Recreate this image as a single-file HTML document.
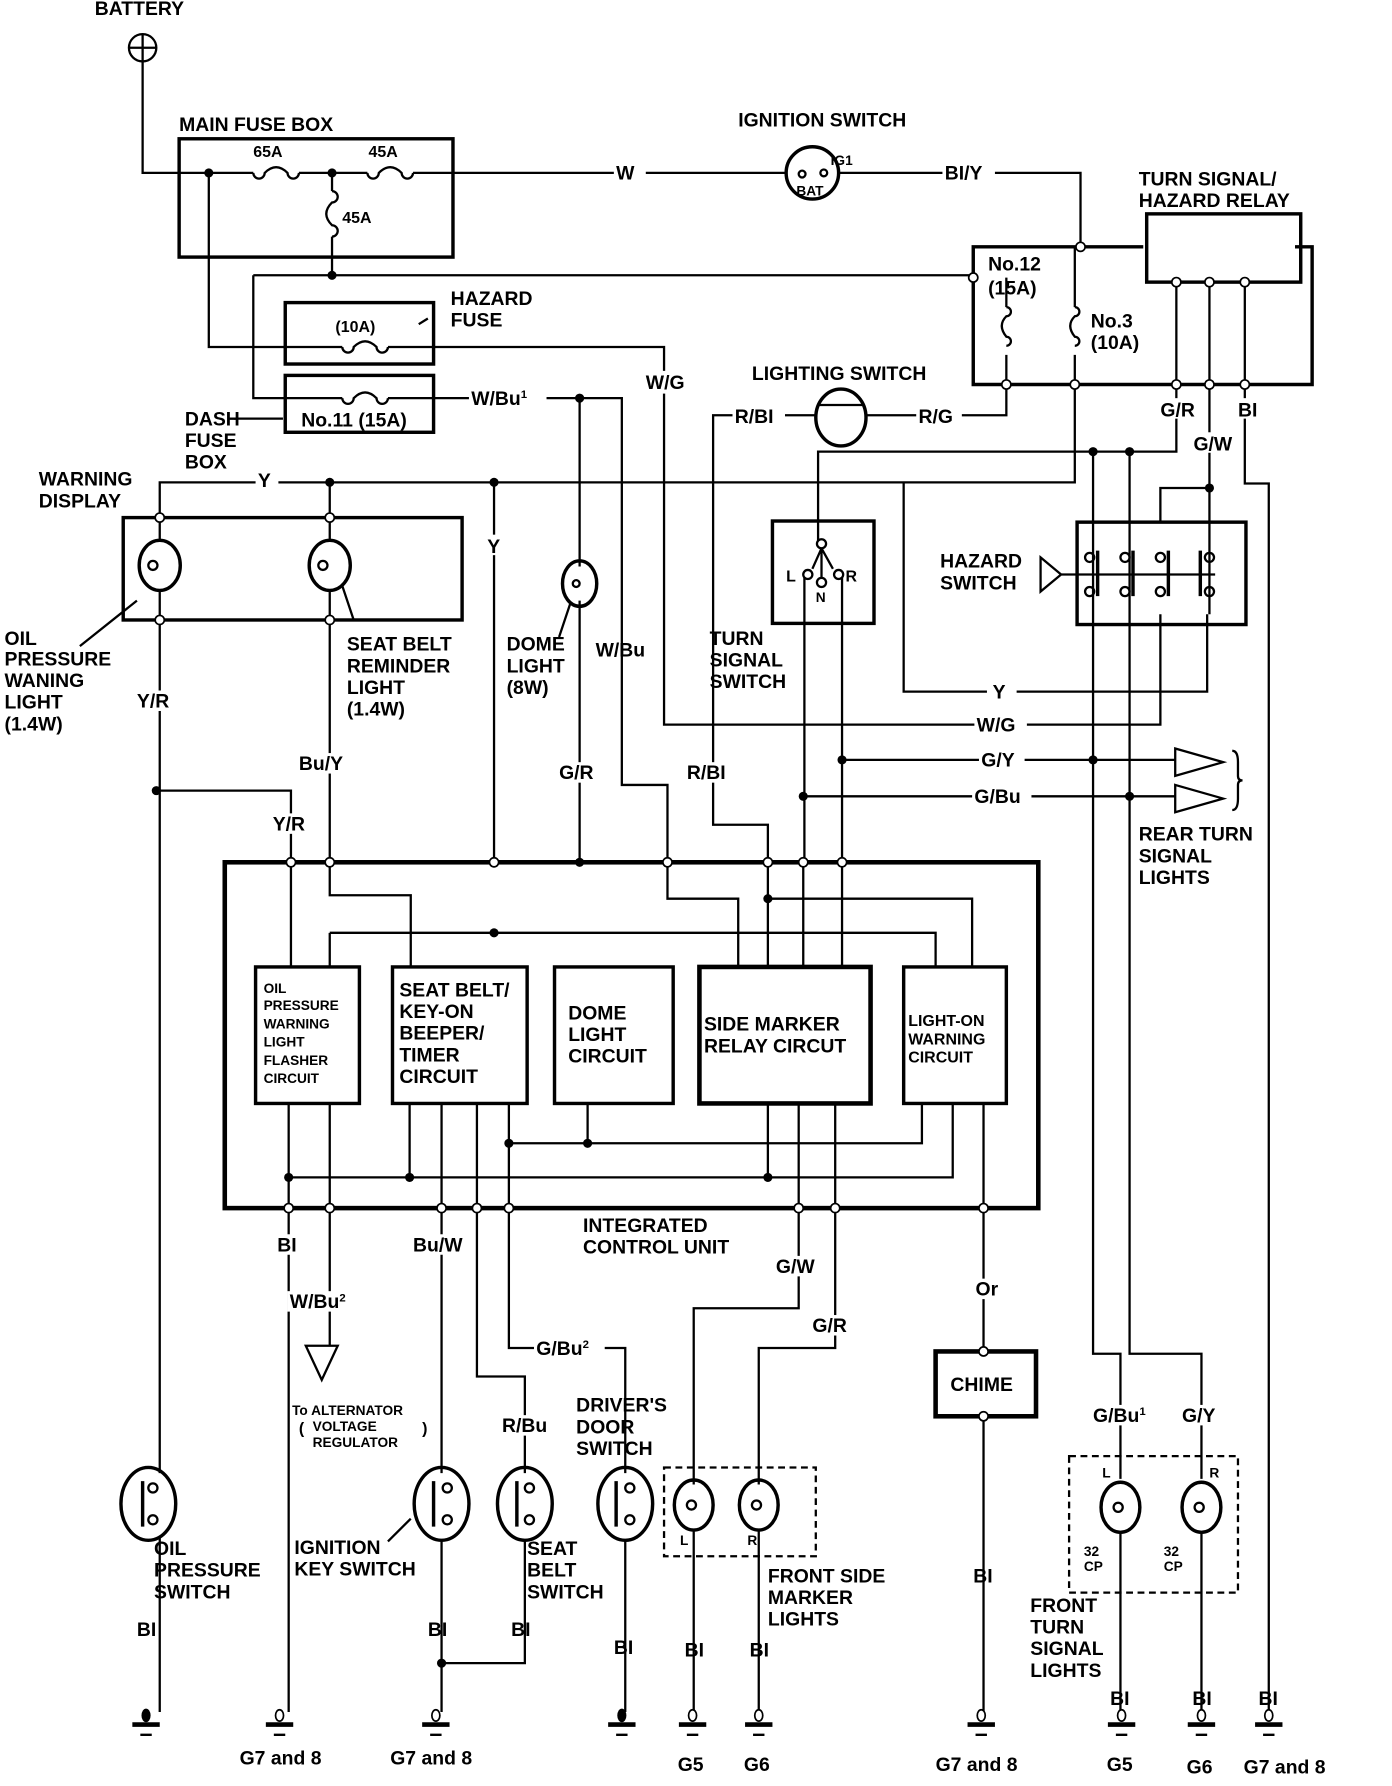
<!DOCTYPE html>
<html><head><meta charset="utf-8"><style>
html,body{margin:0;padding:0;background:#fff;}
svg{display:block}
text{font-family:"Liberation Sans",sans-serif;font-weight:bold;font-size:17px;fill:#000}
.s{font-size:14px}
.xs{font-size:12px}
</style></head><body>
<svg width="1392" height="1786" viewBox="0 0 1220 1570" preserveAspectRatio="none" xmlns="http://www.w3.org/2000/svg">
<g fill="none" stroke="#000" stroke-width="2">
<!-- battery -->
<circle cx="125" cy="42" r="12"/><path d="M113 42h24M125 30v24"/>
<path d="M125 54V152H222M262 152H322M362 152H690"/>
<!-- main fuse box -->
<rect x="157" y="122" width="240" height="104" stroke-width="3"/>
<path d="M222 152a5 5 0 1 0 10 0q10 -10 20 0a5 5 0 1 0 10 0"/>
<path d="M322 152a5 5 0 1 0 10 0q10 -10 20 0a5 5 0 1 0 10 0"/>
<path d="M291 152V168M291 208V242"/>
<path d="M291 168a5 5 0 1 1 0 10q-10 10 0 20a5 5 0 1 1 0 10"/>
<path d="M183 152V305H300M340 305H380H582V637H1017V540"/>
<path d="M222 242H853M222 242V350H300M340 350H508H545V690H585V758"/>
<path d="M300 305a5 5 0 1 0 10 0q10 -10 20 0a5 5 0 1 0 10 0"/>
<path d="M300 350a5 5 0 1 0 10 0q10 -10 20 0a5 5 0 1 0 10 0"/>
<rect x="250" y="266" width="130" height="54" stroke-width="3"/>
<rect x="250" y="330" width="130" height="50" stroke-width="3"/>
<path d="M205 368H248M375 280l-8 5"/>
<!-- ignition switch -->
<circle cx="712" cy="152" r="23" stroke-width="3"/>
<circle cx="703" cy="153" r="3"/><circle cx="722" cy="152" r="3"/>
<path d="M735 152H947V217"/>
<!-- fuse block 12 / 3 and relay -->
<path d="M1002 217H853V338H1150V217H1135" stroke-width="3"/>
<rect x="1005" y="188" width="135" height="60" stroke-width="3"/>
<path d="M882 244V270M882 312V338M942 217V270M942 312V338"/>
<path d="M882 270a4 4 0 1 1 0 8q-8 8 0 18a4 4 0 1 1 0 8"/>
<path d="M942 270a4 4 0 1 1 0 8q-8 8 0 18a4 4 0 1 1 0 8"/>
<path d="M1031 248V338M1060 248V338M1091 248V338"/>
<!-- lighting switch -->
<ellipse cx="737" cy="367" rx="22" ry="25" stroke-width="3"/>
<path d="M718 356H756"/>
<path d="M882 338V365H759M715 365H625V725H673V758"/>
<!-- No3 output -->
<path d="M942 338V424H140V455"/>
<path d="M1031 338V397H717V475"/>
<path d="M958 397V1190H982V1300M990 397V1190H1053V1300"/>
<path d="M1060 338V540M1060 429H1017V459"/>
<path d="M1091 338V425H1112V1505"/>
<path d="M792 424V608H1058V540"/>
<!-- hazard switch -->
<rect x="944" y="459" width="148" height="90" stroke-width="3"/>
<path d="M912 490L930 505L912 520ZM930 505H1065"/>
<path d="M962 484v40M993 484v40M1024 484v40M1052 484v40" stroke-width="3"/>
<circle cx="955" cy="490" r="4"/><circle cx="955" cy="520" r="4"/>
<circle cx="986" cy="490" r="4"/><circle cx="986" cy="520" r="4"/>
<circle cx="1017" cy="490" r="4"/><circle cx="1017" cy="520" r="4"/>
<circle cx="1060" cy="490" r="4"/><circle cx="1060" cy="520" r="4"/>
<!-- turn signal switch -->
<rect x="677" y="458" width="89" height="90" stroke-width="3"/>
<circle cx="720" cy="478" r="4"/><circle cx="708" cy="505" r="4"/><circle cx="735" cy="505" r="4"/><circle cx="720" cy="512" r="4"/>
<path d="M720 482V508M720 482L712 500M720 482L730 500"/>
<path d="M705 508V758M738 508V758"/>
<path d="M738 668H1030M704 700H1030"/>
<path d="M1030 658L1072 670L1030 682ZM1030 690L1072 702L1030 714Z"/>
<path d="M1080 660q5 0 5 10v12q0 4 4 4q-4 0 -4 4v12q0 10 -5 10"/>
<!-- warning display -->
<rect x="108" y="455" width="297" height="90" stroke-width="3"/>
<ellipse cx="140" cy="497" rx="18" ry="22" stroke-width="3"/><circle cx="134" cy="497" r="4"/>
<ellipse cx="289" cy="497" rx="18" ry="22" stroke-width="3"/><circle cx="283" cy="497" r="4"/>
<path d="M140 455V475M140 519V545M289 424V475M289 519V545"/>
<path d="M140 545V1295M140 1352V1505M137 695H255V758M289 545V758"/>
<path d="M433 424V758M508 350V498M508 528V758"/>
<ellipse cx="508" cy="513" rx="15" ry="20" stroke-width="3"/><circle cx="505" cy="513" r="3"/>
<path d="M70 568L120 528M310 545L300 515M490 560L500 530"/>
<!-- ICU -->
<rect x="197" y="758" width="713" height="304" stroke-width="4"/>
<rect x="224" y="850" width="91" height="120" stroke-width="3"/>
<rect x="344" y="850" width="118" height="120" stroke-width="3"/>
<rect x="486" y="850" width="104" height="120" stroke-width="3"/>
<rect x="613" y="850" width="150" height="120" stroke-width="4"/>
<rect x="792" y="850" width="90" height="120" stroke-width="3"/>
<path d="M255 758V850M289 758V787H360V850M289 820V850M289 820H820V850M585 758V790H647V850M673 790H852V850M673 758V850M704 758V850M738 758V850"/>
<path d="M253 970V1505M289 970V1183M359 970V1035M387 970V1295M418 970V1210H460V1295M446 970V1185H548V1295"/>
<path d="M253 1035H835V970M446 1005H808V970M515 970V1005"/>
<path d="M673 970V1035M700 970V1150H608V1305M732 970V1185H665V1305M862 970V1188"/>
<path d="M268 1183H296L282 1213Z"/>
<!-- chime -->
<rect x="820" y="1188" width="88" height="57" stroke-width="4"/>
<path d="M862 1245V1505"/>
<!-- switches -->
<ellipse cx="130" cy="1322" rx="24" ry="32" stroke-width="3"/>
<ellipse cx="387" cy="1322" rx="24" ry="32" stroke-width="3"/>
<ellipse cx="460" cy="1322" rx="24" ry="32" stroke-width="3"/>
<ellipse cx="548" cy="1322" rx="24" ry="32" stroke-width="3"/>
<path d="M125 1302v40M380 1302v40M453 1302v40M540 1302v40" stroke-width="3"/>
<circle cx="134" cy="1308" r="4"/><circle cx="134" cy="1336" r="4"/>
<circle cx="392" cy="1308" r="4"/><circle cx="392" cy="1336" r="4"/>
<circle cx="464" cy="1308" r="4"/><circle cx="464" cy="1336" r="4"/>
<circle cx="552" cy="1308" r="4"/><circle cx="552" cy="1336" r="4"/>
<path d="M387 1354V1505M387 1462H460V1354M548 1354V1505M340 1355L360 1335"/>
<!-- front side markers -->
<rect x="582" y="1290" width="133" height="78" stroke-dasharray="6 4"/>
<ellipse cx="608" cy="1323" rx="17" ry="22" stroke-width="3"/><circle cx="606" cy="1323" r="4"/>
<ellipse cx="665" cy="1323" rx="17" ry="22" stroke-width="3"/><circle cx="663" cy="1323" r="4"/>
<path d="M608 1345V1505M665 1345V1505"/>
<!-- front turn -->
<rect x="937" y="1280" width="148" height="120" stroke-dasharray="6 4"/>
<ellipse cx="982" cy="1325" rx="17" ry="22" stroke-width="3"/><circle cx="980" cy="1325" r="4"/>
<ellipse cx="1053" cy="1325" rx="17" ry="22" stroke-width="3"/><circle cx="1051" cy="1325" r="4"/>
<path d="M982 1347V1505M1053 1347V1505"/>
</g>
<!-- dots -->
<g fill="#000">
<circle cx="183" cy="152" r="4"/><circle cx="291" cy="152" r="4"/><circle cx="291" cy="242" r="4"/>
<circle cx="508" cy="350" r="4"/><circle cx="289" cy="424" r="4"/><circle cx="433" cy="424" r="4"/>
<circle cx="958" cy="397" r="4"/><circle cx="990" cy="397" r="4"/><circle cx="1060" cy="429" r="4"/>
<circle cx="137" cy="695" r="4"/><circle cx="738" cy="668" r="4"/><circle cx="704" cy="700" r="4"/>
<circle cx="958" cy="668" r="4"/><circle cx="990" cy="700" r="4"/>
<circle cx="433" cy="820" r="4"/><circle cx="673" cy="790" r="4"/><circle cx="508" cy="758" r="4"/>
<circle cx="253" cy="1035" r="4"/><circle cx="359" cy="1035" r="4"/><circle cx="673" cy="1035" r="4"/>
<circle cx="446" cy="1005" r="4"/><circle cx="515" cy="1005" r="4"/><circle cx="387" cy="1462" r="4"/>
</g>
<g fill="#fff" stroke="#000" stroke-width="1.5">
<circle cx="853" cy="244" r="4"/><circle cx="947" cy="217" r="4"/><circle cx="882" cy="338" r="4"/><circle cx="942" cy="338" r="4"/>
<circle cx="1031" cy="248" r="4"/><circle cx="1060" cy="248" r="4"/><circle cx="1091" cy="248" r="4"/>
<circle cx="1031" cy="338" r="4"/><circle cx="1060" cy="338" r="4"/><circle cx="1091" cy="338" r="4"/>
<circle cx="140" cy="455" r="4"/><circle cx="289" cy="455" r="4"/><circle cx="140" cy="545" r="4"/><circle cx="289" cy="545" r="4"/>
<circle cx="255" cy="758" r="4"/><circle cx="289" cy="758" r="4"/><circle cx="433" cy="758" r="4"/><circle cx="585" cy="758" r="4"/>
<circle cx="673" cy="758" r="4"/><circle cx="704" cy="758" r="4"/><circle cx="738" cy="758" r="4"/>
<circle cx="253" cy="1062" r="4"/><circle cx="289" cy="1062" r="4"/><circle cx="387" cy="1062" r="4"/><circle cx="418" cy="1062" r="4"/><circle cx="446" cy="1062" r="4"/>
<circle cx="700" cy="1062" r="4"/><circle cx="732" cy="1062" r="4"/><circle cx="862" cy="1062" r="4"/>
<circle cx="862" cy="1188" r="4"/><circle cx="862" cy="1245" r="4"/>
</g>
<!-- grounds -->
<g stroke="#000" fill="none">
<path d="M116 1516h24M233 1516h24M370 1516h24M533 1516h24M595 1516h24M653 1516h24M848 1516h24M971 1516h24M1041 1516h24M1100 1516h24" stroke-width="4"/>
<path d="M123 1525h10M240 1525h10M377 1525h10M540 1525h10M602 1525h10M660 1525h10M855 1525h10M978 1525h10M1048 1525h10M1107 1525h10" stroke-width="2"/>
</g>
<g fill="#000"><ellipse cx="128" cy="1508" rx="4" ry="6"/><ellipse cx="545" cy="1508" rx="4" ry="6"/></g>
<g fill="#fff" stroke="#000" stroke-width="1.5">
<ellipse cx="245" cy="1508" rx="3.5" ry="5"/><ellipse cx="382" cy="1508" rx="3.5" ry="5"/><ellipse cx="607" cy="1508" rx="3.5" ry="5"/><ellipse cx="665" cy="1508" rx="3.5" ry="5"/><ellipse cx="860" cy="1508" rx="3.5" ry="5"/><ellipse cx="983" cy="1508" rx="3.5" ry="5"/><ellipse cx="1053" cy="1508" rx="3.5" ry="5"/><ellipse cx="1112" cy="1508" rx="3.5" ry="5"/>
</g>
<!-- label backgrounds -->
<g fill="#fff">
<rect x="538" y="143" width="28" height="18"/><rect x="826" y="143" width="46" height="18"/>
<rect x="411" y="341" width="68" height="18"/><rect x="565" y="326" width="46" height="20"/>
<rect x="642" y="356" width="46" height="18"/><rect x="803" y="356" width="40" height="18"/>
<rect x="224" y="414" width="20" height="18"/><rect x="425" y="470" width="18" height="18"/>
<rect x="865" y="599" width="26" height="18"/><rect x="854" y="628" width="46" height="18"/>
<rect x="858" y="659" width="40" height="18"/><rect x="852" y="691" width="52" height="18"/>
<rect x="1016" y="350" width="40" height="18"/><rect x="1044" y="380" width="44" height="18"/><rect x="1083" y="350" width="20" height="18"/>
<rect x="600" y="670" width="44" height="18"/><rect x="488" y="670" width="40" height="18"/>
<rect x="117" y="607" width="40" height="18"/><rect x="260" y="662" width="50" height="18"/><rect x="237" y="715" width="38" height="18"/>
<rect x="240" y="1085" width="26" height="18"/><rect x="360" y="1085" width="54" height="18"/>
<rect x="252" y="1135" width="60" height="18"/><rect x="672" y="1104" width="52" height="18"/><rect x="710" y="1156" width="44" height="18"/>
<rect x="852" y="1124" width="24" height="18"/><rect x="468" y="1176" width="62" height="18"/><rect x="437" y="1244" width="50" height="18"/>
<rect x="955" y="1235" width="60" height="18"/><rect x="1033" y="1235" width="40" height="18"/>
</g>
<g>
<text x="83" y="13">BATTERY</text>
<text x="157" y="115">MAIN FUSE BOX</text>
<text x="222" y="138" class="s">65A</text><text x="323" y="138" class="s">45A</text><text x="300" y="196" class="s">45A</text>
<text x="540" y="158">W</text>
<text x="647" y="111">IGNITION SWITCH</text>
<text x="728" y="145" class="xs">IG1</text><text x="698" y="172" class="xs">BAT</text>
<text x="828" y="158">BI/Y</text>
<text x="998" y="163">TURN SIGNAL/</text><text x="998" y="182">HAZARD RELAY</text>
<text x="866" y="238">No.12</text><text x="866" y="259">(15A)</text>
<text x="956" y="288">No.3</text><text x="956" y="307">(10A)</text>
<text x="395" y="268">HAZARD</text><text x="395" y="287">FUSE</text>
<text x="294" y="292" class="s">(10A)</text>
<text x="264" y="375">No.11 (15A)</text>
<text x="162" y="374">DASH</text><text x="162" y="393">FUSE</text><text x="162" y="412">BOX</text>
<text x="413" y="356">W/Bu<tspan font-size="10" dy="-6">1</tspan></text>
<text x="566" y="342">W/G</text>
<text x="659" y="334">LIGHTING SWITCH</text>
<text x="644" y="372">R/BI</text><text x="805" y="372">R/G</text>
<text x="1017" y="366">G/R</text><text x="1085" y="366">BI</text><text x="1046" y="396">G/W</text>
<text x="34" y="427">WARNING</text><text x="34" y="446">DISPLAY</text>
<text x="226" y="428">Y</text><text x="427" y="486">Y</text>
<text x="824" y="499">HAZARD</text><text x="824" y="518">SWITCH</text>
<text x="689" y="511" class="s">L</text><text x="741" y="511" class="s">R</text><text x="715" y="529" class="xs">N</text>
<text x="4" y="567">OIL</text><text x="4" y="585">PRESSURE</text><text x="4" y="604">WANING</text><text x="4" y="623">LIGHT</text><text x="4" y="642">(1.4W)</text>
<text x="304" y="572">SEAT BELT</text><text x="304" y="591">REMINDER</text><text x="304" y="610">LIGHT</text><text x="304" y="629">(1.4W)</text>
<text x="444" y="572">DOME</text><text x="444" y="591">LIGHT</text><text x="444" y="610">(8W)</text>
<text x="522" y="577">W/Bu</text>
<text x="622" y="567">TURN</text><text x="622" y="586">SIGNAL</text><text x="622" y="605">SWITCH</text>
<text x="870" y="614">Y</text><text x="856" y="643">W/G</text><text x="860" y="674">G/Y</text><text x="854" y="706">G/Bu</text>
<text x="120" y="622">Y/R</text><text x="262" y="677">Bu/Y</text><text x="239" y="730">Y/R</text>
<text x="490" y="685">G/R</text><text x="602" y="685">R/BI</text>
<text x="998" y="739">REAR TURN</text><text x="998" y="758">SIGNAL</text><text x="998" y="777">LIGHTS</text>
<text x="231" y="873" class="xs">OIL</text><text x="231" y="888" class="xs">PRESSURE</text><text x="231" y="904" class="xs">WARNING</text><text x="231" y="920" class="xs">LIGHT</text><text x="231" y="936" class="xs">FLASHER</text><text x="231" y="952" class="xs">CIRCUIT</text>
<text x="350" y="876">SEAT BELT/</text><text x="350" y="895">KEY-ON</text><text x="350" y="914">BEEPER/</text><text x="350" y="933">TIMER</text><text x="350" y="952">CIRCUIT</text>
<text x="498" y="896">DOME</text><text x="498" y="915">LIGHT</text><text x="498" y="934">CIRCUIT</text>
<text x="617" y="906">SIDE MARKER</text><text x="617" y="925">RELAY CIRCUT</text>
<text x="796" y="902" class="s">LIGHT-ON</text><text x="796" y="918" class="s">WARNING</text><text x="796" y="934" class="s">CIRCUIT</text>
<text x="511" y="1083">INTEGRATED</text><text x="511" y="1102">CONTROL UNIT</text>
<text x="243" y="1100">BI</text><text x="362" y="1100">Bu/W</text>
<text x="254" y="1150">W/Bu<tspan font-size="10" dy="-6">2</tspan></text>
<text x="680" y="1119">G/W</text><text x="712" y="1171">G/R</text><text x="855" y="1139">Or</text>
<text x="470" y="1191">G/Bu<tspan font-size="10" dy="-6">2</tspan></text>
<text x="833" y="1223">CHIME</text>
<text x="256" y="1244" class="xs">To ALTERNATOR</text><text x="274" y="1258" class="xs">VOLTAGE</text><text x="274" y="1272" class="xs">REGULATOR</text>
<text x="262" y="1260" class="s">(</text><text x="370" y="1260" class="s">)</text>
<text x="440" y="1259">R/Bu</text>
<text x="505" y="1241">DRIVER'S</text><text x="505" y="1260">DOOR</text><text x="505" y="1279">SWITCH</text>
<text x="958" y="1250">G/Bu<tspan font-size="10" dy="-6">1</tspan></text><text x="1036" y="1250">G/Y</text>
<text x="966" y="1299" class="xs">L</text><text x="1060" y="1299" class="xs">R</text>
<text x="596" y="1358" class="xs">L</text><text x="655" y="1358" class="xs">R</text>
<text x="950" y="1368" class="xs">32</text><text x="950" y="1381" class="xs">CP</text>
<text x="1020" y="1368" class="xs">32</text><text x="1020" y="1381" class="xs">CP</text>
<text x="135" y="1367">OIL</text><text x="135" y="1386">PRESSURE</text><text x="135" y="1405">SWITCH</text>
<text x="258" y="1366">IGNITION</text><text x="258" y="1385">KEY SWITCH</text>
<text x="462" y="1367">SEAT</text><text x="462" y="1386">BELT</text><text x="462" y="1405">SWITCH</text>
<text x="673" y="1391">FRONT SIDE</text><text x="673" y="1410">MARKER</text><text x="673" y="1429">LIGHTS</text>
<text x="903" y="1417">FRONT</text><text x="903" y="1436">TURN</text><text x="903" y="1455">SIGNAL</text><text x="903" y="1474">LIGHTS</text>
<text x="120" y="1438">BI</text><text x="375" y="1438">BI</text><text x="448" y="1438">BI</text><text x="538" y="1454">BI</text>
<text x="600" y="1456">BI</text><text x="657" y="1456">BI</text><text x="853" y="1391">BI</text>
<text x="973" y="1499">BI</text><text x="1045" y="1499">BI</text><text x="1103" y="1499">BI</text>
<text x="210" y="1551">G7 and 8</text><text x="342" y="1551">G7 and 8</text>
<text x="594" y="1557">G5</text><text x="652" y="1557">G6</text>
<text x="820" y="1557">G7 and 8</text><text x="970" y="1557">G5</text><text x="1040" y="1559">G6</text><text x="1090" y="1559">G7 and 8</text>
</g>
</svg>
</body></html>
